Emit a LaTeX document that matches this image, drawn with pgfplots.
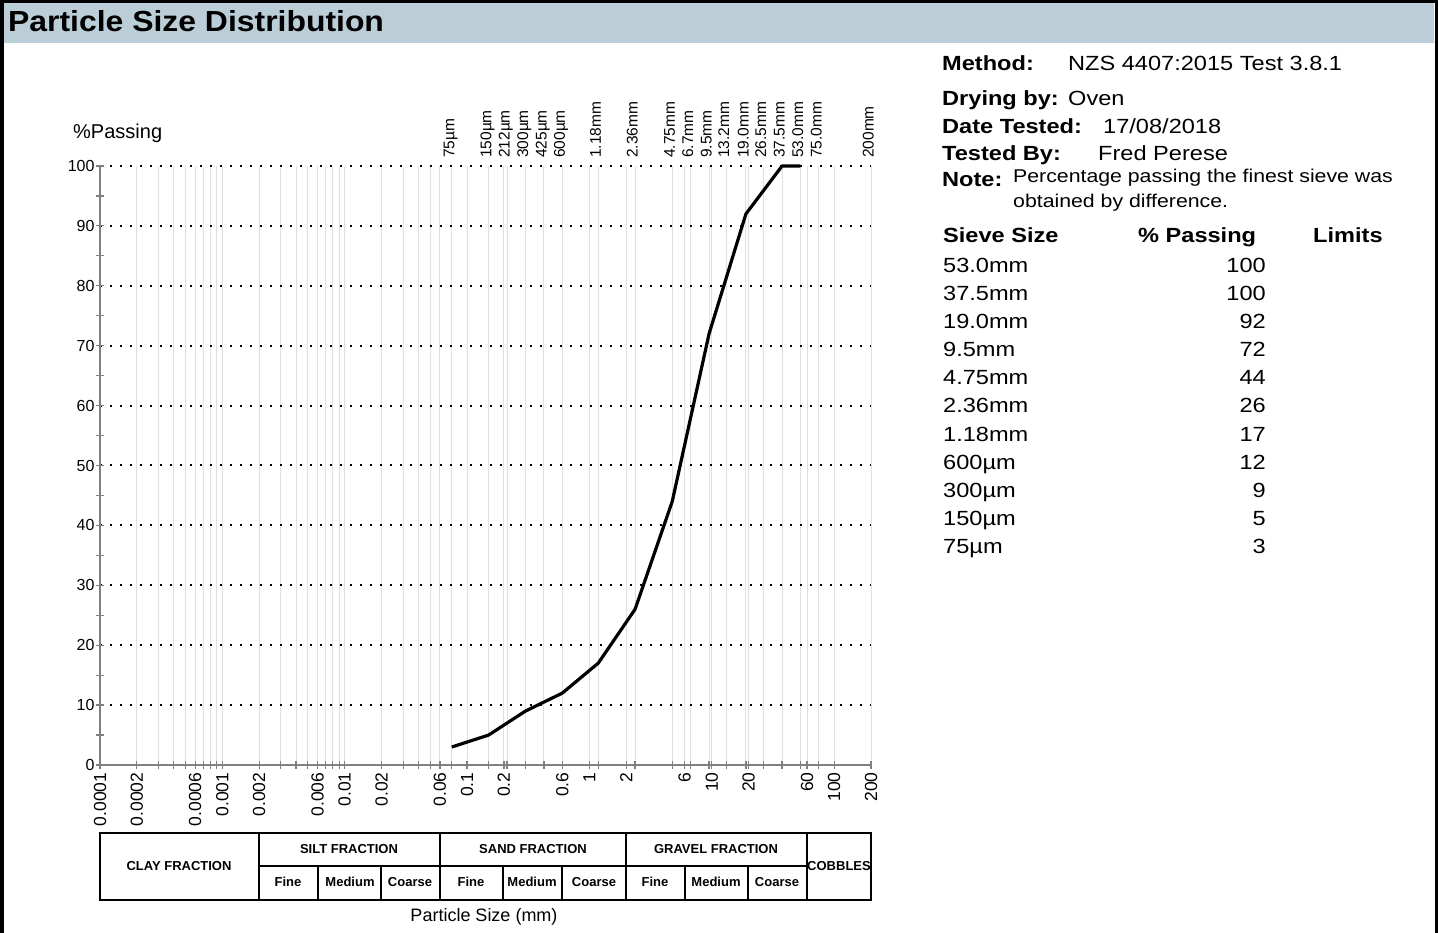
\documentclass[border=0pt]{standalone}
\usepackage{fontspec}
\setmainfont{Liberation Sans}
\newfontfamily\wide[FakeStretch=1.15]{Liberation Sans}
\newfontfamily\widet[FakeStretch=1.1]{Liberation Sans}
\usepackage{pgfplots}
\pgfplotsset{compat=1.18}
\definecolor{barblue}{HTML}{BBCDD7}
\definecolor{vgrid}{HTML}{E0E0E0}
\definecolor{axgray}{HTML}{808080}
\tikzset{toplab/.style={rotate=90, anchor=mid west, inner sep=0pt, font=\fontsize{15.5}{15.5}\selectfont}}

\begin{document}
\begin{tikzpicture}[x=1pt,y=1pt]
\useasboundingbox (0,0) rectangle (1438,932);

% page furniture, pixel coordinates (y down)
\begin{scope}[shift={(0,932)}, y=-1pt]
  \fill[barblue] (3,3) rectangle (1434,43);
  \draw[line width=3.5pt] (1.75,940) -- (1.75,1.75) -- (1436.25,1.75) -- (1436.25,940);
  \node[anchor=base west, inner sep=0pt, font=\widet\bfseries\fontsize{29}{29}\selectfont] at (8,32) {Particle Size Distribution};

  \node[anchor=base west, inner sep=0pt, font=\fontsize{20}{20}\selectfont] at (73,139) {\%Passing};

  % test info
  \begin{scope}[every node/.style={anchor=base west, inner sep=0pt, font=\wide\fontsize{20.5}{20.5}\selectfont}]
    \node[font=\wide\bfseries\fontsize{20.5}{20.5}\selectfont] at (942,71) {Method:};
    \node at (1068,71) {NZS 4407:2015 Test 3.8.1};
    \node[font=\wide\bfseries\fontsize{20.5}{20.5}\selectfont] at (942,106) {Drying by:};
    \node at (1068,106) {Oven};
    \node[font=\wide\bfseries\fontsize{20.5}{20.5}\selectfont] at (942,134) {Date Tested:};
    \node at (1103,134) {17/08/2018};
    \node[font=\wide\bfseries\fontsize{20.5}{20.5}\selectfont] at (942,161) {Tested By:};
    \node at (1098,161) {Fred Perese};
    \node[font=\wide\bfseries\fontsize{20.5}{20.5}\selectfont] at (942,187) {Note:};
    \node[font=\wide\fontsize{18.5}{18.5}\selectfont] at (1013,183) {Percentage passing the finest sieve was};
    \node[font=\wide\fontsize{18.5}{18.5}\selectfont] at (1013,208) {obtained by difference.};
    \node[font=\wide\bfseries\fontsize{20.5}{20.5}\selectfont] at (943,243) {Sieve Size};
    \node[font=\wide\bfseries\fontsize{20.5}{20.5}\selectfont] at (1138,243) {\% Passing};
    \node[font=\wide\bfseries\fontsize{20.5}{20.5}\selectfont] at (1313,243) {Limits};
    \node at (943,273) {53.0mm};  \node[anchor=base east] at (1266,273) {100};
    \node at (943,301) {37.5mm};  \node[anchor=base east] at (1266,301) {100};
    \node at (943,329) {19.0mm};  \node[anchor=base east] at (1266,329) {92};
    \node at (943,357) {9.5mm};   \node[anchor=base east] at (1266,357) {72};
    \node at (943,385) {4.75mm};  \node[anchor=base east] at (1266,385) {44};
    \node at (943,413) {2.36mm};  \node[anchor=base east] at (1266,413) {26};
    \node at (943,442) {1.18mm};  \node[anchor=base east] at (1266,442) {17};
    \node at (943,470) {600µm};   \node[anchor=base east] at (1266,470) {12};
    \node at (943,498) {300µm};   \node[anchor=base east] at (1266,498) {9};
    \node at (943,526) {150µm};   \node[anchor=base east] at (1266,526) {5};
    \node at (943,554) {75µm};    \node[anchor=base east] at (1266,554) {3};
  \end{scope}

  % soil fraction table
  \draw[line width=2pt] (100,833) rectangle (871,900);
  \draw[line width=2pt] (259,866) -- (807,866);
  \foreach \xx in {259,440,626,807} \draw[line width=2pt] (\xx,833) -- (\xx,900);
  \foreach \xx in {318,381,503,562,685,748} \draw[line width=2pt] (\xx,866) -- (\xx,900);
  \begin{scope}[every node/.style={inner sep=0pt, font=\bfseries\fontsize{13}{13}\selectfont}]
    \node at (179,866) {CLAY FRACTION};
    \node at (349,849) {SILT FRACTION};
    \node at (533,849) {SAND FRACTION};
    \node at (716,849) {GRAVEL FRACTION};
    \node at (839,866) {COBBLES};
    \node at (288,882) {Fine};   \node at (350,882) {Medium}; \node at (410,882) {Coarse};
    \node at (471,882) {Fine};   \node at (532,882) {Medium}; \node at (594,882) {Coarse};
    \node at (655,882) {Fine};   \node at (716,882) {Medium}; \node at (777,882) {Coarse};
  \end{scope}
  \node[anchor=base, inner sep=0pt, font=\fontsize{18}{18}\selectfont] at (484,921) {Particle Size (mm)};
\end{scope}

\begin{axis}[
  at={(100pt,167pt)}, anchor=south west,
  width=771pt, height=599pt, scale only axis,
  xmode=log, xmin=0.0001, xmax=200, ymin=0, ymax=100,
  enlargelimits=false, clip=false,
  axis lines=left,
  axis line style={-, draw=axgray, line width=1.5pt},
  tick align=center, major tick length=8pt, minor tick length=8pt,
  tick style={axgray, line width=1.2pt},
  xtick={0.0001,0.0002,0.0006,0.001,0.002,0.006,0.01,0.02,0.06,0.1,0.2,0.6,1,2,6,10,20,60,100,200},
  xticklabels={0.0001,0.0002,0.0006,0.001,0.002,0.006,0.01,0.02,0.06,0.1,0.2,0.6,1,2,6,10,20,60,100,200},
  minor xtick={0.0003,0.0004,0.0005,0.0007,0.0008,0.0009,0.003,0.004,0.005,0.007,0.008,0.009,0.03,0.04,0.05,0.075,0.15,0.212,0.3,0.425,1.18,2.36,4.75,6.7,9.5,13.2,19,26.5,37.5,53,75},
  xticklabel style={rotate=90, anchor=east, font=\fontsize{17.5}{17.5}\selectfont},
  ytick={10,20,30,40,50,60,70,80,90,100},
  yticklabels={10,20,30,40,50,60,70,80,90,100},
  extra y ticks={0}, extra y tick labels={0},
  extra y tick style={ymajorgrids=false},
  minor ytick={5,15,25,35,45,55,65,75,85,95},
  yticklabel style={font=\fontsize{16}{16}\selectfont, xshift=2pt},
  xmajorgrids=true, xminorgrids=true, ymajorgrids=true,
  major x grid style={vgrid, line width=1pt},
  minor x grid style={vgrid, line width=1pt},
  major y grid style={black, line width=2pt, dash pattern=on 2pt off 8pt},
]
\addplot[black, line width=3.2pt, line join=round, mark=none] coordinates {
  (0.075,3) (0.15,5) (0.3,9) (0.6,12) (1.18,17) (2.36,26)
  (4.75,44) (9.5,72) (19,92) (37.5,100) (53,100)
};
\node[toplab] at ([yshift=8pt]axis cs:0.075,100) {75µm};
\node[toplab] at ([yshift=8pt]axis cs:0.15,100) {150µm};
\node[toplab] at ([yshift=8pt]axis cs:0.212,100) {212µm};
\node[toplab] at ([yshift=8pt]axis cs:0.3,100) {300µm};
\node[toplab] at ([yshift=8pt]axis cs:0.425,100) {425µm};
\node[toplab] at ([yshift=8pt]axis cs:0.6,100) {600µm};
\node[toplab] at ([yshift=8pt]axis cs:1.18,100) {1.18mm};
\node[toplab] at ([yshift=8pt]axis cs:2.36,100) {2.36mm};
\node[toplab] at ([yshift=8pt]axis cs:4.75,100) {4.75mm};
\node[toplab] at ([yshift=8pt]axis cs:6.7,100) {6.7mm};
\node[toplab] at ([yshift=8pt]axis cs:9.5,100) {9.5mm};
\node[toplab] at ([yshift=8pt]axis cs:13.2,100) {13.2mm};
\node[toplab] at ([yshift=8pt]axis cs:19,100) {19.0mm};
\node[toplab] at ([yshift=8pt]axis cs:26.5,100) {26.5mm};
\node[toplab] at ([yshift=8pt]axis cs:37.5,100) {37.5mm};
\node[toplab] at ([yshift=8pt]axis cs:53,100) {53.0mm};
\node[toplab] at ([yshift=8pt]axis cs:75,100) {75.0mm};
\node[toplab] at ([yshift=8pt]axis cs:200,100) {200mm};
\end{axis}
\end{tikzpicture}
\end{document}
